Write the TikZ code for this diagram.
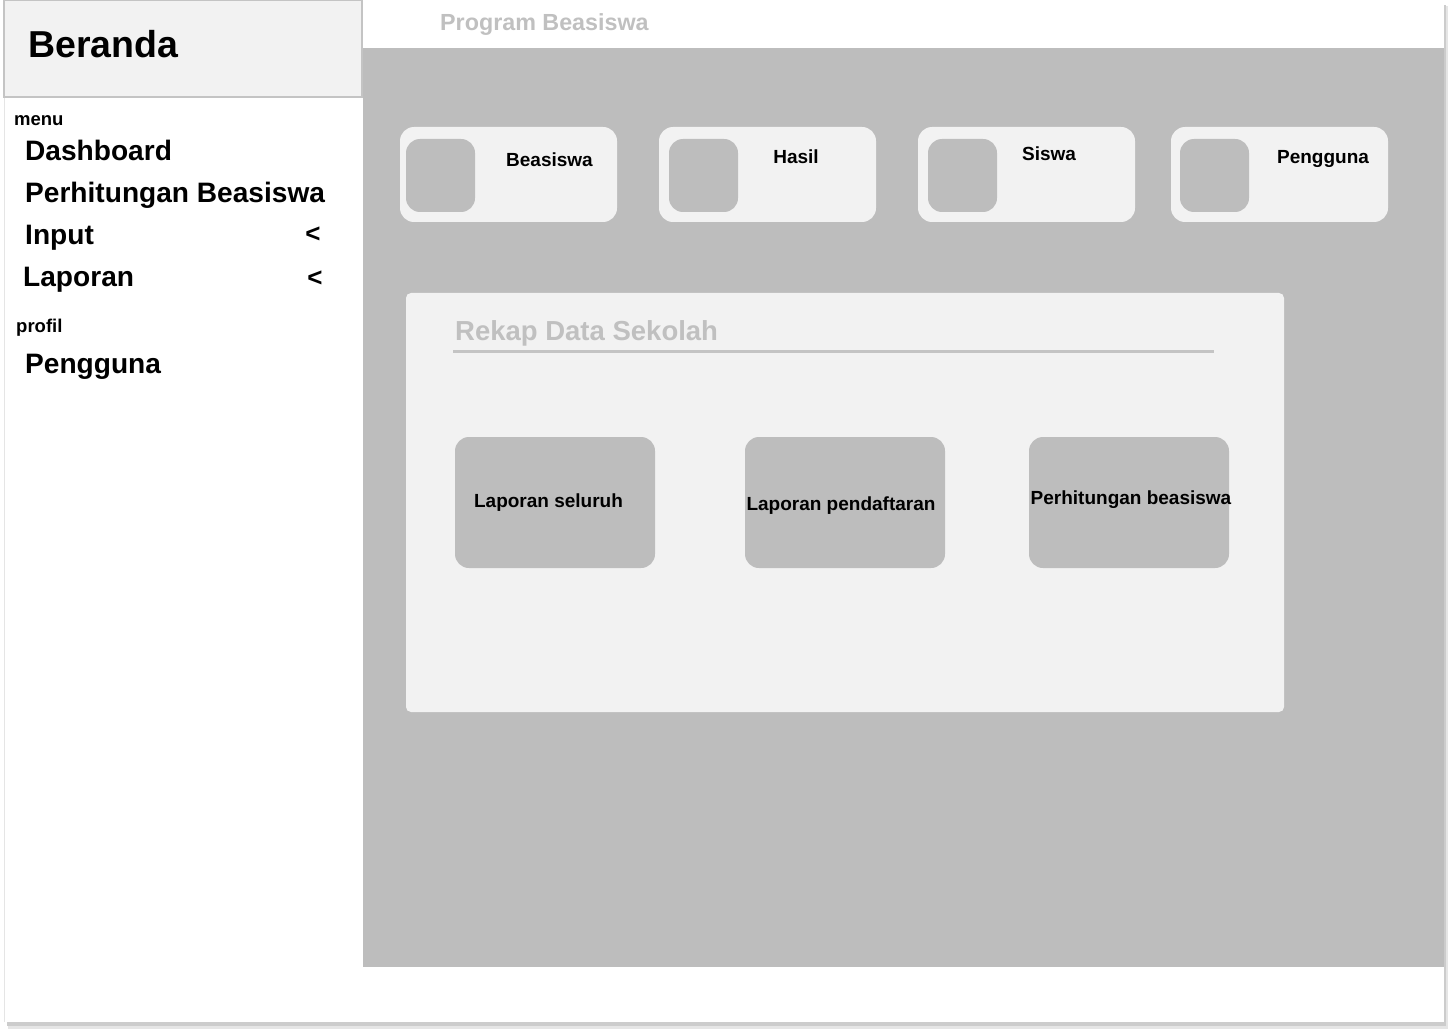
\documentclass[tikz,border=0pt]{standalone}
\usepackage{fontspec}
\setmainfont{Liberation Sans}
\definecolor{gbg}{HTML}{BDBDBD}
\definecolor{glight}{HTML}{F2F2F2}
\definecolor{gtext}{HTML}{C0C0C0}
\definecolor{gline}{HTML}{C4C4C4}
\tikzset{
  box/.style={anchor=north west, inner sep=0pt, outer sep=0pt},
  card/.style={box, fill=glight, rounded corners=14pt, minimum width=217pt, minimum height=95pt},
  icon/.style={box, fill=gbg, rounded corners=14pt, minimum width=69pt, minimum height=73pt},
  tile/.style={box, fill=gbg, rounded corners=14pt, minimum width=200pt, minimum height=131pt},
  lbl/.style={anchor=base, inner sep=0pt, font=\fontsize{19}{22}\selectfont\bfseries},
  menuitem/.style={anchor=base west, inner sep=0pt, font=\fontsize{28.1}{32}\selectfont\bfseries},
  small/.style={anchor=base west, inner sep=0pt, font=\fontsize{18.5}{22}\selectfont\bfseries},
}
\begin{document}
\begin{tikzpicture}[x=1pt,y=-1pt]
\useasboundingbox (0,0) rectangle (1448,1032);
% frame with shadow
\fill[black!10] (8,6) rectangle (1448,1029);
\fill[black!20] (7,5) rectangle (1446,1026);
\node[box, fill=white, minimum width=1440pt, minimum height=1022pt] (frame) at (4,0) {};
\coordinate (fl1) at (4,0);
\coordinate (fl2) at (4,1022);
\draw[black!10, line width=1pt] (fl1) -- (fl2);
% main gray area
\node[box, fill=gbg, minimum width=1081pt, minimum height=919pt] (main) at (363,48) {};
% header box
\node[box, fill=glight, draw=gline, line width=2pt, minimum width=358pt, minimum height=97pt] (head) at (4,0) {};
\node[anchor=base west, inner sep=0pt, font=\fontsize{37.5}{44}\selectfont\bfseries] (beranda) at (28,58) {Beranda};
\node[anchor=base west, inner sep=0pt, text=gtext, font=\fontsize{23.3}{28}\selectfont\bfseries] (prog) at (440,30.5) {Program Beasiswa};
% sidebar
\node[small] (menu) at (14,126) {menu};
\node[menuitem] (dash) at (25,161) {Dashboard};
\node[menuitem] (perh) at (25,203) {Perhitungan Beasiswa};
\node[menuitem] (input) at (25,245) {Input};
\node[menuitem] (lap) at (23,287) {Laporan};
\node[anchor=base, inner sep=0pt, font=\fontsize{26}{30}\selectfont\bfseries] (arr1) at (313,243) {<};
\node[anchor=base, inner sep=0pt, font=\fontsize{26}{30}\selectfont\bfseries] (arr2) at (315,287) {<};
\node[small] (profil) at (16,332) {profil};
\node[menuitem] (peng) at (25,373) {Pengguna};
% top cards
\node[card] (c1) at (400,127) {};
\node[icon] (i1) at (406,139) {};
\node[lbl] (t1) at (549.5,167) {Beasiswa};
\node[card] (c2) at (659,127) {};
\node[icon] (i2) at (669,139) {};
\node[lbl] (t2) at (796,164) {Hasil};
\node[card] (c3) at (918,127) {};
\node[icon] (i3) at (928,139) {};
\node[lbl] (t3) at (1049,161) {Siswa};
\node[card] (c4) at (1171,127) {};
\node[icon] (i4) at (1180,139) {};
\node[lbl] (t4) at (1323,164) {Pengguna};
% rekap panel
\node[box, fill=glight, rounded corners=5pt, minimum width=878pt, minimum height=419pt] (panel) at (406,293) {};
\node[anchor=base west, inner sep=0pt, text=gtext, font=\fontsize{27.5}{32}\selectfont\bfseries] (rekap) at (455,340) {Rekap Data Sekolah};
\coordinate (ulA) at (453,351);
\coordinate (ulB) at (1214,351);
\draw[gline, line width=3pt] (ulA) -- (ulB);
\node[tile] (b1) at (455,437) {};
\node[lbl] (l1) at (548.5,507.5) {Laporan seluruh};
\node[tile] (b2) at (745,437) {};
\node[lbl] (l2) at (841,510.5) {Laporan pendaftaran};
\node[tile] (b3) at (1029,437) {};
\node[lbl] (l3) at (1131,504) {Perhitungan beasiswa};
\end{tikzpicture}
\end{document}
